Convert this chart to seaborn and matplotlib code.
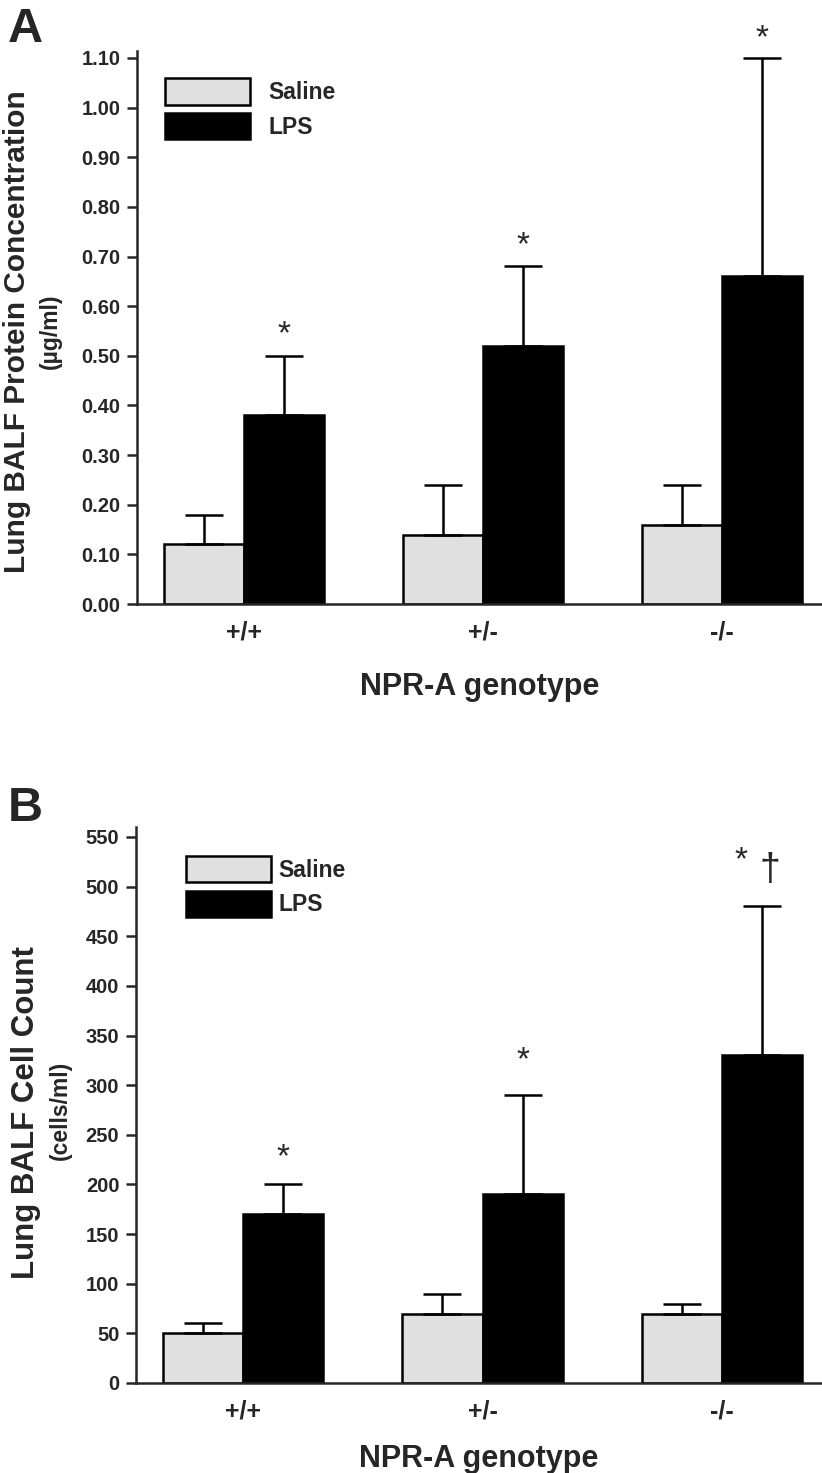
import numpy as np
import pandas as pd
import matplotlib
matplotlib.use("Agg")
import matplotlib.pyplot as plt
import seaborn as sns

# ---------------- data ----------------
genotypes = ["+/+", "+/-", "-/-"]
treatments = ["Saline", "LPS"]

protein_saline = [0.12, 0.14, 0.16]
protein_saline_err_top = [0.18, 0.24, 0.24]
protein_lps = [0.38, 0.52, 0.66]
protein_lps_err_top = [0.50, 0.68, 1.10]
protein_marks = ["*", "*", "*"]
protein_extra_marks = ["", "", ""]
protein_yticks = [0.0, 0.1, 0.2, 0.3, 0.4, 0.5, 0.6, 0.7, 0.8, 0.9, 1.0, 1.1]

cells_saline = [50, 70, 70]
cells_saline_err_top = [60, 90, 80]
cells_lps = [170, 190, 330]
cells_lps_err_top = [200, 290, 480]
cells_marks = ["*", "*", "*"]
cells_extra_marks = ["", "", "\u2020"]
cells_yticks = [0, 50, 100, 150, 200, 250, 300, 350, 400, 450, 500, 550]

# ---------------- style ----------------
sns.set_style("ticks")
plt.rcParams["font.family"] = ["Liberation Sans", "DejaVu Sans"]
plt.rcParams["font.weight"] = "bold"

palette = {"Saline": "#e0e0e0", "LPS": "#000000"}
LW = 1.8

fig = plt.figure(figsize=(8.22, 14.73), dpi=100)
W, H = 822.0, 1473.0

def px_axes(left, top, right, bottom):
    return [left / W, 1 - bottom / H, (right - left) / W, (bottom - top) / H]

axA = fig.add_axes(px_axes(137, 50.5, 822, 604))
axB = fig.add_axes(px_axes(136, 827, 822, 1383))


def make_panel(ax, sal, sal_top, lps, lps_top, marks, extra, yticks, ylim, fmt,
               leg_anchor, textpad, mark_offsets, mark_dx, extra_offsets, xlabelpad):
    df = pd.DataFrame({
        "genotype": genotypes * 2,
        "treatment": [treatments[0]] * 3 + [treatments[1]] * 3,
        "value": list(sal) + list(lps),
    })
    sns.barplot(data=df, x="genotype", y="value", hue="treatment",
                order=genotypes, hue_order=treatments, palette=palette,
                edgecolor="black", linewidth=LW, width=0.67, gap=0,
                errorbar=None, legend=False, ax=ax, saturation=1)
    tops = [sal_top, lps_top]
    for cont, top in zip(ax.containers, tops):
        for bar, t in zip(cont.patches, top):
            x = bar.get_x() + bar.get_width() / 2
            h = bar.get_height()
            ax.errorbar(x, h, yerr=[[0], [t - h]], fmt="none", ecolor="black",
                        elinewidth=LW, capsize=13.5, capthick=LW, zorder=1)
    # significance marks above LPS error bars
    for bar, t, m, e, off, dx, eoff in zip(ax.containers[1].patches, lps_top, marks,
                                          extra, mark_offsets, mark_dx, extra_offsets):
        x = bar.get_x() + bar.get_width() / 2
        ax.annotate(m, (x, t), xytext=(dx, off), textcoords="offset points",
                    ha="center", va="center", fontsize=24, fontweight="normal",
                    family=["Liberation Sans", "DejaVu Sans"])
        if e:
            ax.annotate(e, (x, t), xytext=(6, eoff), textcoords="offset points",
                        ha="center", va="center", fontsize=27, fontweight="normal",
                        family=["Liberation Sans", "DejaVu Sans"])
    ax.set_ylim(*ylim)
    ax.set_xlim(-0.448, 2.418)
    ax.set_yticks(yticks)
    ax.set_yticklabels([fmt.format(v) for v in yticks])
    ax.tick_params(axis="y", direction="out", length=7, width=LW, labelsize=14.5, pad=5)
    ax.tick_params(axis="x", length=0, labelsize=18, pad=12)
    for lab in ax.get_xticklabels() + ax.get_yticklabels():
        lab.set_fontweight("bold")
    sns.despine(ax=ax)
    ax.spines["left"].set_linewidth(LW)
    ax.spines["bottom"].set_linewidth(LW)
    ax.set_ylabel("")
    ax.set_xlabel("NPR-A genotype", fontsize=22, fontweight="bold", labelpad=xlabelpad)
    handles = [ax.containers[0].patches[0], ax.containers[1].patches[0]]
    ax.legend(handles, treatments, loc="upper left", bbox_to_anchor=leg_anchor,
              frameon=False, handlelength=3.7, handleheight=1.4,
              labelspacing=0.36, handletextpad=textpad, borderpad=0,
              borderaxespad=0, prop={"weight": "bold", "size": 16.5})


make_panel(axA, protein_saline, protein_saline_err_top, protein_lps,
           protein_lps_err_top, protein_marks, protein_extra_marks,
           protein_yticks, (0, 1.115), "{:.2f}", (0.041, 0.950), 0.8,
           [15, 15, 14], [0, 0, 0], [0, 0, 0], 20)
make_panel(axB, cells_saline, cells_saline_err_top, cells_lps,
           cells_lps_err_top, cells_marks, cells_extra_marks,
           cells_yticks, (0, 560), "{:.0f}", (0.073, 0.948), 0.32,
           [19, 25, 33], [0, 0, -15], [0, 0, 26], 15)

# y-axis labels (two lines, different sizes)
fig.text(17 / W, 1 - 332 / H, "Lung BALF Protein Concentration", rotation=90,
         ha="center", va="center", fontsize=21.5, fontweight="bold")
fig.text(50 / W, 1 - 331 / H, "(\u00b5g/ml)", rotation=90,
         ha="center", va="center", fontsize=16.5, fontweight="bold")
fig.text(26 / W, 1 - 1113 / H, "Lung BALF Cell Count", rotation=90,
         ha="center", va="center", fontsize=22.5, fontweight="bold")
fig.text(60 / W, 1 - 1110 / H, "(cells/ml)", rotation=90,
         ha="center", va="center", fontsize=16.5, fontweight="bold")

# panel letters
fig.text(8 / W, 1 - 7 / H, "A", ha="left", va="top", fontsize=35, fontweight="bold")
fig.text(8 / W, 1 - 786 / H, "B", ha="left", va="top", fontsize=35, fontweight="bold")

fig.savefig("out.png", dpi=100)
